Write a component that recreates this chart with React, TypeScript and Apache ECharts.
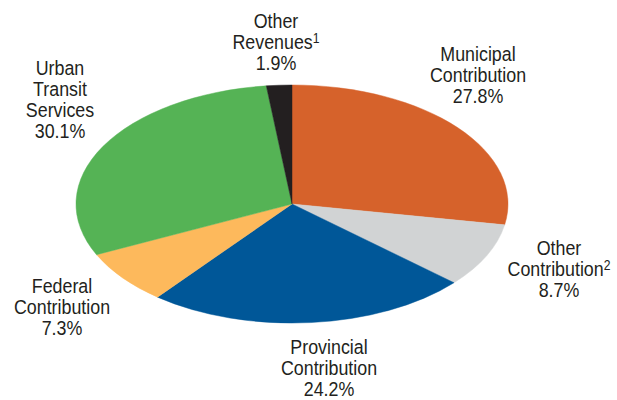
import React, { useEffect, useRef } from 'react';
import * as echarts from 'echarts';

const categories = [
  'Municipal\nContribution',
  'Other\nContribution',
  'Provincial\nContribution',
  'Federal\nContribution',
  'Urban\nTransit\nServices',
  'Other\nRevenues',
];
const footnotes = ['', '2', '', '', '', '1'];
const shares = [27.8, 8.7, 24.2, 7.3, 30.1, 1.9];
const sliceColors = ['#D6622B', '#D1D3D4', '#005798', '#FDB95C', '#55B355', '#231F20'];

const PIE = { cx: 292, cy: 204, rx: 216, ry: 119 };
const LABEL_POS = [
  [478, 75],
  [559, 269],
  [329, 368],
  [62, 307],
  [60, 100],
  [276, 42],
];
const FONT = '"Liberation Sans", Arial, sans-serif';
const TEXT_COLOR = '#231F20';
const TEXT_SQUEEZE = 0.87;

export default function App() {
  const ref = useRef<HTMLDivElement>(null);
  useEffect(() => {
    document.body.style.margin = '0';
    const chart = echarts.init(ref.current!, null, { renderer: 'svg' });
    const total = shares.reduce((a, b) => a + b, 0);
    const starts: number[] = [];
    let acc = 0;
    shares.forEach((v) => {
      starts.push(acc);
      acc += v;
    });
    chart.setOption({
      animation: false,
      backgroundColor: '#ffffff',
      series: [
        {
          type: 'custom',
          coordinateSystem: 'none',
          silent: true,
          data: shares.map((v, i) => ({ value: v, name: categories[i] })),
          renderItem: (params: any, api: any) => {
            const i = params.dataIndex;
            const v = api.value(0) as number;
            const a0 = -Math.PI / 2 + (2 * Math.PI * starts[i]) / total;
            const a1 = a0 + (2 * Math.PI * v) / total;
            const [lx, ly] = LABEL_POS[i];
            const name = categories[i] + (footnotes[i] ? `{sup|${footnotes[i]}}` : '');
            return {
              type: 'group',
              children: [
                {
                  type: 'sector',
                  shape: { cx: PIE.cx, cy: PIE.cy, r: PIE.rx, r0: 0, startAngle: a0, endAngle: a1, clockwise: true },
                  originX: PIE.cx,
                  originY: PIE.cy,
                  scaleY: PIE.ry / PIE.rx,
                  style: { fill: sliceColors[i], stroke: sliceColors[i], lineWidth: 0.6 },
                },
                {
                  type: 'text',
                  x: lx,
                  y: ly,
                  scaleX: TEXT_SQUEEZE,
                  style: {
                    text: `${name}\n${v.toFixed(1)}%`,
                    align: 'center',
                    verticalAlign: 'middle',
                    fontSize: 20.5,
                    fontFamily: FONT,
                    lineHeight: 21,
                    fill: TEXT_COLOR,
                    rich: {
                      sup: { fontSize: 14, lineHeight: 14, verticalAlign: 'top', fontFamily: FONT, fill: TEXT_COLOR },
                    },
                  },
                },
              ],
            };
          },
        },
      ],
    });
    return () => chart.dispose();
  }, []);
  return <div ref={ref} style={{ width: 617, height: 400 }} />;
}
